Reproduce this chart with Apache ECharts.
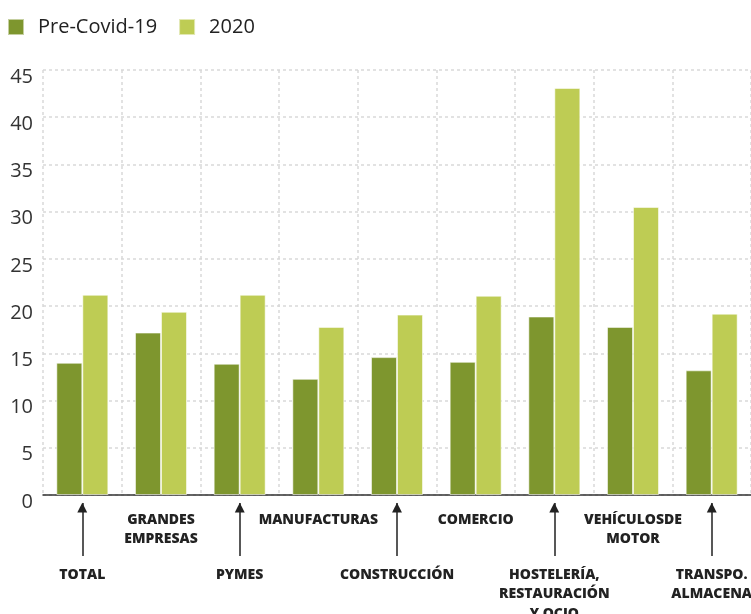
<!DOCTYPE html>
<html>
<head>
<meta charset="utf-8">
<script src="https://cdn.jsdelivr.net/npm/echarts@6/dist/echarts.min.js"></script>
<style>html,body{margin:0;padding:0;background:#fff}#c{width:751px;height:614px}</style>
</head>
<body>
<div id="c"></div>
<script>
var categories = ['TOTAL', 'GRANDES\nEMPRESAS', 'PYMES', 'MANUFACTURAS', 'CONSTRUCCIÓN', 'COMERCIO', 'HOSTELERÍA,\nRESTAURACIÓN\nY OCIO', 'VEHÍCULOSDE\nMOTOR', 'TRANSPO.\nALMACENA'];
var preCovid = [14.0, 17.2, 13.9, 12.3, 14.6, 14.1, 18.9, 17.8, 13.2];
var y2020 = [21.2, 19.4, 21.2, 17.8, 19.1, 21.1, 43.1, 30.5, 19.2];
var yTicks = [0, 5, 10, 15, 20, 25, 30, 35, 40, 45];
var seriesNames = ['Pre-Covid-19', '2020'];

var DARK = '#7E962E', LIGHT = '#BECC54';
var labelFont = {fontFamily: 'Open Sans', fontWeight: 800, fontSize: 14, color: '#222', lineHeight: 19.5};

var chart = echarts.init(document.getElementById('c'), null, {renderer: 'canvas'});
chart.setOption({
  animation: false,
  legend: {
    left: 7, top: 17, padding: 0, itemWidth: 16, itemHeight: 16, itemGap: 21, icon: 'rect',
    textStyle: {fontFamily: 'Open Sans', fontSize: 20, color: '#222', padding: [0, 0, 0, 9]},
    data: seriesNames
  },
  grid: {left: 43, right: 0, top: 70, bottom: 119, containLabel: false, outerBoundsMode: 'none'},
  xAxis: [
    {
      type: 'category', position: 'bottom', data: categories,
      axisLine: {show: true, lineStyle: {color: '#333', width: 1.5}},
      axisTick: {show: false},
      splitLine: {show: true, interval: 0, lineStyle: {color: '#d9d9d9', type: [3, 3], width: 1.5}},
      axisLabel: Object.assign({
        interval: function (i) { return i % 2 === 1; },
        margin: 15, verticalAlign: 'top'
      }, labelFont)
    },
    {
      type: 'category', position: 'bottom', data: categories, offset: 8,
      axisLine: {show: false},
      axisTick: {show: true, alignWithLabel: true, length: 53,
        interval: function (i) { return i % 2 === 0; },
        lineStyle: {color: '#222', width: 1.5}},
      splitLine: {show: false},
      axisLabel: {
        interval: function (i) { return i % 2 === 0; },
        margin: -2, verticalAlign: 'top', fontSize: 13, color: '#222', fontFamily: 'DejaVu Sans',
        formatter: function () { return '▲'; }
      }
    },
    {
      type: 'category', position: 'bottom', data: categories,
      axisLine: {show: false}, axisTick: {show: false}, splitLine: {show: false},
      axisLabel: Object.assign({
        interval: function (i) { return i % 2 === 0; },
        margin: 70, verticalAlign: 'top'
      }, labelFont)
    }
  ],
  yAxis: {
    type: 'value', min: 0, max: 45, interval: 5,
    axisLine: {show: false}, axisTick: {show: false},
    splitLine: {show: true, lineStyle: {color: '#d9d9d9', type: [3, 3], width: 1.5}},
    axisLabel: {
      margin: 10, fontFamily: 'Open Sans', fontSize: 20, color: '#333', verticalAlign: 'top', lineHeight: 14,
      formatter: function (v) { return yTicks.indexOf(v) >= 0 ? String(v) : ''; }
    }
  },
  series: [
    {name: seriesNames[0], type: 'bar', xAxisIndex: 0, data: preCovid, barWidth: 26, barGap: '0%',
      itemStyle: {color: DARK, borderColor: 'rgba(255,255,255,0.55)', borderWidth: 1}},
    {name: seriesNames[1], type: 'bar', xAxisIndex: 0, data: y2020, barWidth: 26, barGap: '0%',
      itemStyle: {color: LIGHT, borderColor: 'rgba(255,255,255,0.55)', borderWidth: 1}}
  ]
});
</script>
</body>
</html>
